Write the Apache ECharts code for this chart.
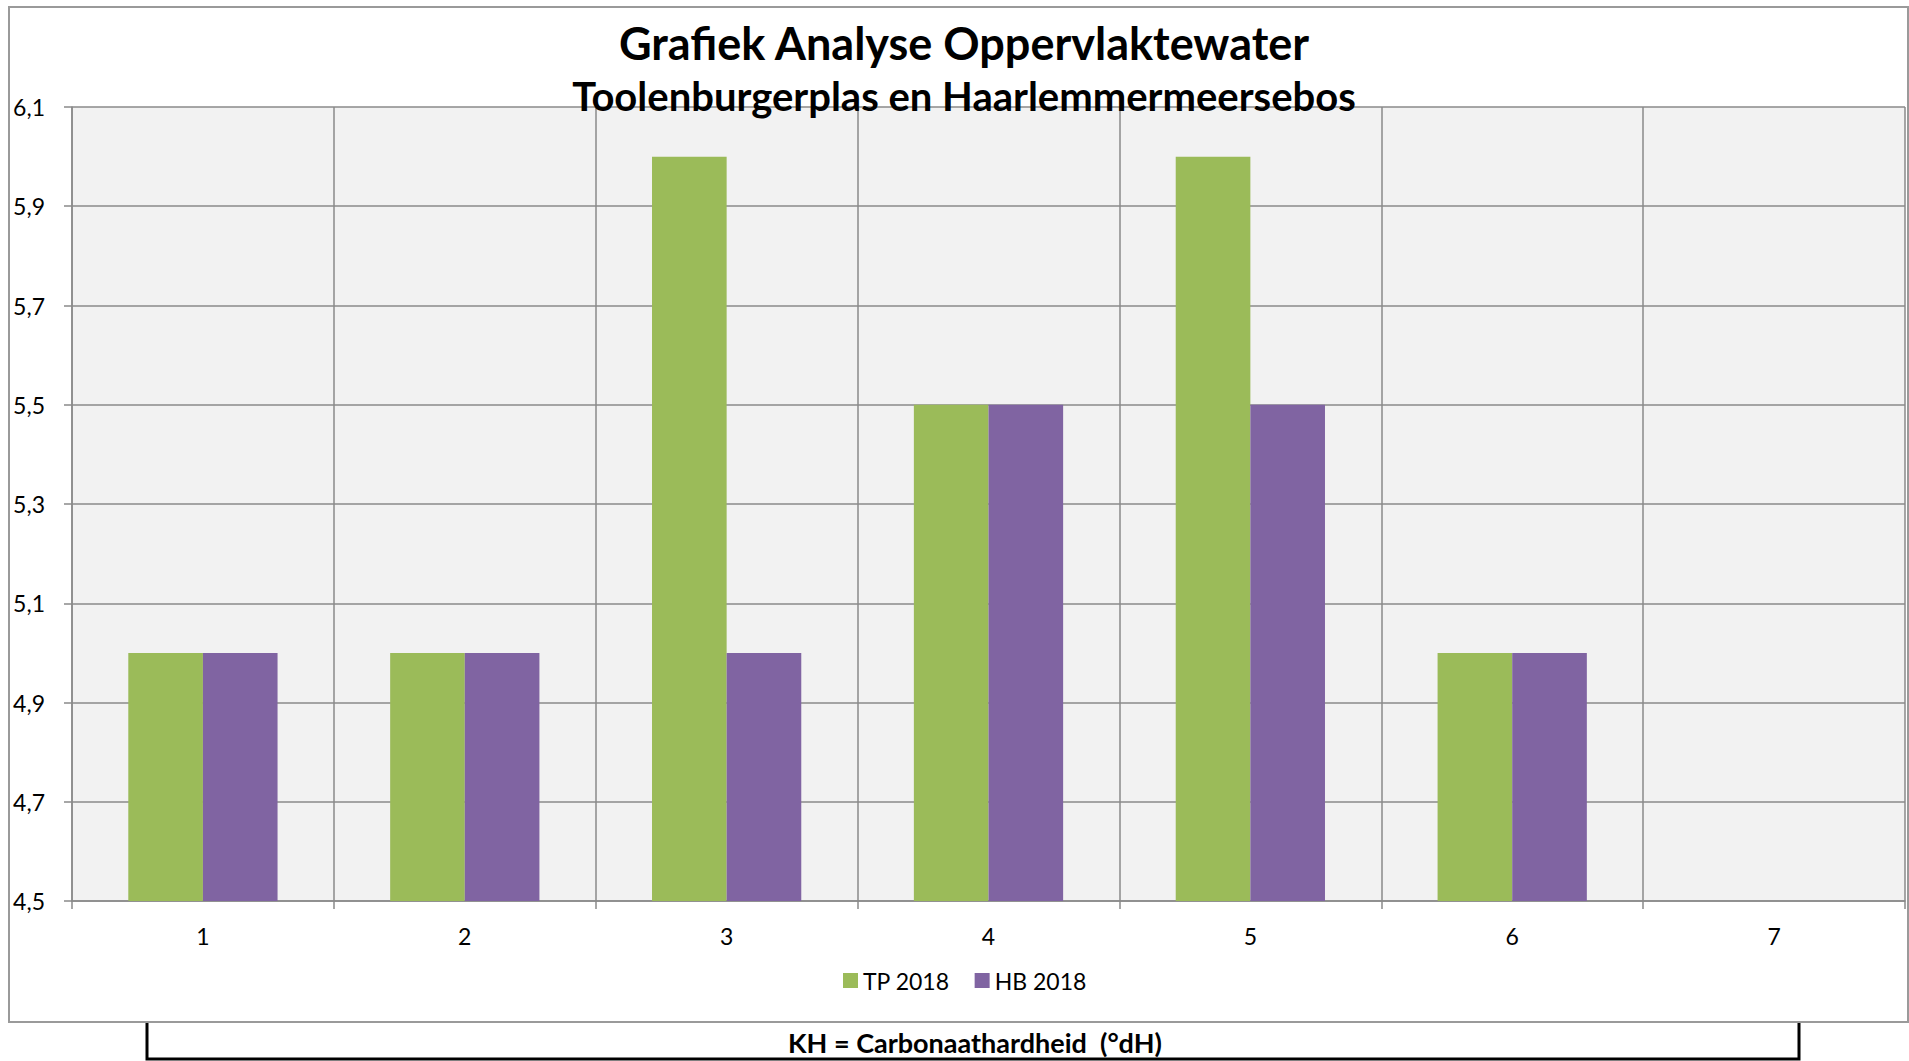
<!DOCTYPE html>
<html>
<head>
<meta charset="utf-8">
<script src="https://cdn.jsdelivr.net/npm/echarts@6/dist/echarts.min.js"></script>
<style>
  html, body { margin: 0; padding: 0; background: #fff; }
  #chart { width: 1909px; height: 1061px; }
</style>
</head>
<body>
<div id="chart"></div>
<script>
// data
var categories = ['1', '2', '3', '4', '5', '6', '7'];
var tp2018 = [5.0, 5.0, 6.0, 5.5, 6.0, 5.0, null];
var hb2018 = [5.0, 5.0, 5.0, 5.5, 5.5, 5.0, null];
var yMin = 4.5;
var yMax = 6.1;
var yStep = 0.2;

var titleText = 'Grafiek Analyse Oppervlaktewater';
var subText = 'Toolenburgerplas en Haarlemmermeersebos';
var noteText = 'KH = Carbonaathardheid  (°dH)';

var font = 'Lato, "Open Sans", sans-serif';
var gridColor = '#8a8a8a';

var chart = echarts.init(document.getElementById('chart'), null, { renderer: 'svg' });

var option = {
  backgroundColor: '#fff',
  animation: false,
  color: ['#9BBB59', '#8064A2'],
  grid: {
    left: 72,
    right: 4,
    top: 107,
    bottom: 160,
    containLabel: false,
    outerBoundsMode: 'none',
    show: true,
    backgroundColor: '#F2F2F2',
    borderWidth: 0
  },
  legend: {
    data: ['TP 2018', 'HB 2018'],
    left: 838,
    top: 964,
    icon: 'rect',
    itemWidth: 15,
    itemHeight: 15,
    itemGap: 25,
    textStyle: { fontFamily: font, fontSize: 23, color: '#000' }
  },
  xAxis: {
    type: 'category',
    data: categories,
    axisLine: { lineStyle: { color: gridColor, width: 1.5 } },
    axisTick: { show: true, length: 8, lineStyle: { color: gridColor, width: 1.5 } },
    axisLabel: { fontFamily: font, fontSize: 23, color: '#000', margin: 23 },
    splitLine: { show: true, lineStyle: { color: gridColor, width: 1.5 } }
  },
  yAxis: {
    type: 'value',
    min: yMin,
    max: yMax,
    interval: yStep,
    axisLine: { show: true, lineStyle: { color: gridColor, width: 1.5 } },
    axisTick: { show: true, length: 8, lineStyle: { color: gridColor, width: 1.5 } },
    axisLabel: {
      fontFamily: font,
      fontSize: 23,
      color: '#000',
      margin: 27,
      formatter: function (v) {
        return v.toFixed(1).replace('.', ',');
      }
    },
    splitLine: { show: true, lineStyle: { color: gridColor, width: 1.5 } }
  },
  series: [{
    name: 'TP 2018',
    type: 'bar',
    data: tp2018,
    barGap: '0%',
    barCategoryGap: '43%'
  }, {
    name: 'HB 2018',
    type: 'bar',
    data: hb2018,
    barGap: '0%',
    barCategoryGap: '43%'
  }],
  graphic: [
    // outer chart frame
    {
      type: 'rect',
      z: 100,
      silent: true,
      shape: { x: 9, y: 7, width: 1899, height: 1015 },
      style: { fill: null, stroke: '#9a9a9a', lineWidth: 2 }
    },
    // note box under the chart
    {
      type: 'polyline',
      z: 90,
      silent: true,
      shape: { points: [[147, 1022], [147, 1059], [1799, 1059], [1799, 1022]] },
      style: { fill: null, stroke: '#000', lineWidth: 3 }
    },
    {
      type: 'text',
      z: 100,
      style: {
        text: noteText, x: 975, y: 1042,
        textAlign: 'center', textVerticalAlign: 'middle',
        font: 'bold 27px ' + font, fill: '#000'
      }
    },
    {
      type: 'text',
      z: 100,
      style: {
        text: titleText, x: 964, y: 43,
        textAlign: 'center', textVerticalAlign: 'middle',
        font: 'bold 45px ' + font, fill: '#000'
      }
    },
    {
      type: 'text',
      z: 100,
      style: {
        text: subText, x: 964, y: 96,
        textAlign: 'center', textVerticalAlign: 'middle',
        font: 'bold 40px ' + font, fill: '#000'
      }
    }
  ]
};

chart.setOption(option);
</script>
</body>
</html>
